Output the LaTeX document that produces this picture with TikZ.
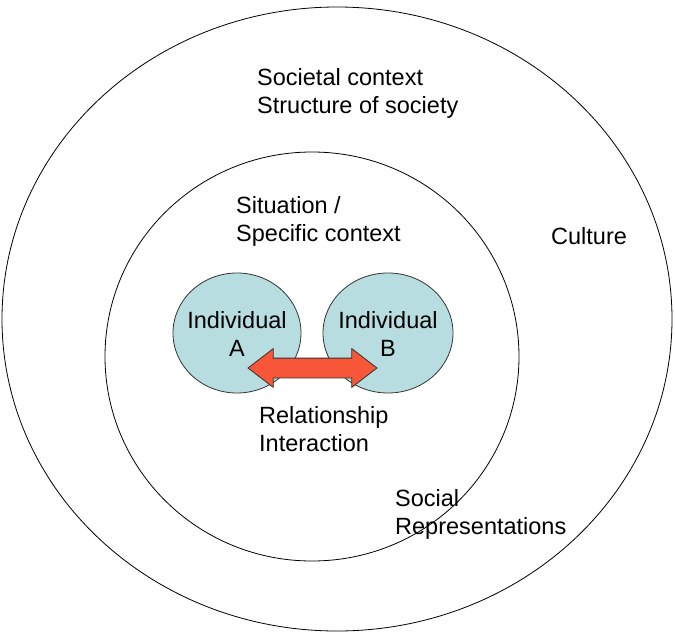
\documentclass[tikz,border=0pt]{standalone}
\usepackage{fontspec}
\setmainfont{Liberation Sans}
\usetikzlibrary{shapes.arrows}
\definecolor{personfill}{RGB}{183,221,224}
\definecolor{linkfill}{RGB}{248,86,56}
\begin{document}
\begin{tikzpicture}[x=1pt,y=-1pt,
  ring/.style={draw=black,line width=0.8pt},
  outline/.style={draw=black!80,line width=0.8pt},
  label/.style={inner sep=0pt,anchor=base west,font=\fontsize{23.5}{28}\selectfont},
  clabel/.style={inner sep=0pt,anchor=base,font=\fontsize{23.5}{28}\selectfont},
  link/.style={double arrow,draw=black!80,line width=0.8pt,fill=linkfill,
    inner xsep=0pt,inner ysep=9.5pt}]
\useasboundingbox (0,0) rectangle (675,632);
% society and situation rings
\draw[ring] (337,319) ellipse [x radius=335, y radius=312];
\draw[ring] (312,356.5) ellipse [x radius=207, y radius=204.5];
% the two individuals
\coordinate (A) at (237,333);
\coordinate (B) at (388,333);
\fill[personfill] (A) ellipse [x radius=64, y radius=60];
\draw[outline] (A) ellipse [x radius=64, y radius=60];
\fill[personfill] (B) ellipse [x radius=65, y radius=60];
\draw[outline] (B) ellipse [x radius=65, y radius=60];
% relationship arrow
\node[link,minimum height=129pt,minimum width=38pt,double arrow head extend=9.5pt,
      double arrow tip angle=75] (rel) at (312.5,368) {};
% texts
\node[label] (soc1) at (257,85) {Societal context};
\node[label] (soc2) at (257,113) {Structure of society};
\node[label] (sit1) at (236,213) {Situation /};
\node[label] (sit2) at (236,241) {Specific context};
\node[label] (cul) at (551,244) {Culture};
\node[clabel] (ia1) at (237,328) {Individual};
\node[clabel] (ia2) at (237,356) {A};
\node[clabel] (ib1) at (388,328) {Individual};
\node[clabel] (ib2) at (388,356) {B};
\node[label] (rel1) at (259,423) {Relationship};
\node[label] (rel2) at (259,451) {Interaction};
\node[label] (sr1) at (395,506) {Social};
\node[label] (sr2) at (395,534) {Representations};
\end{tikzpicture}
\end{document}
